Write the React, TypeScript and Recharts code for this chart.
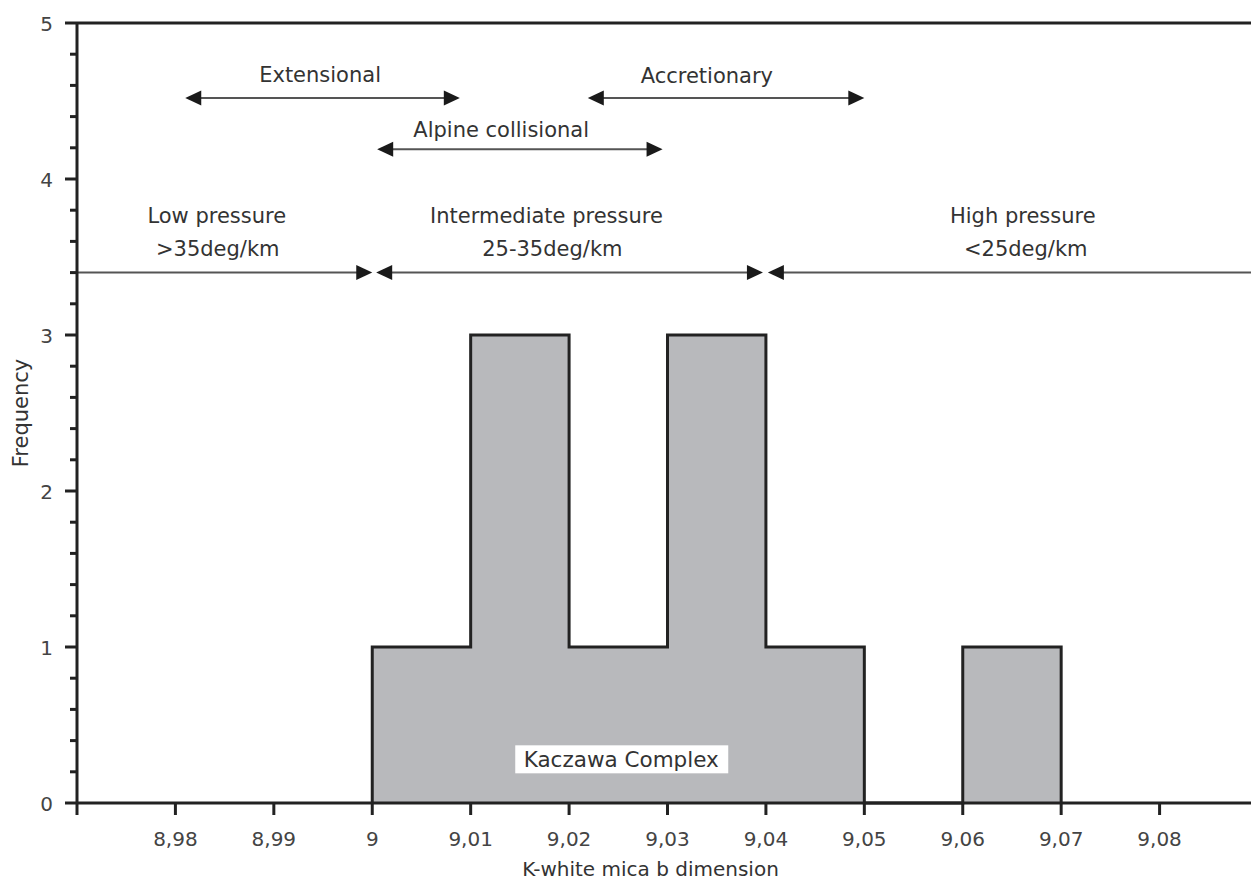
import { ComposedChart, Area, XAxis, YAxis, ReferenceLine, ReferenceDot, Label } from "recharts"

// histogram bins (lower edge) and counts
const binStarts = [9.0, 9.01, 9.02, 9.03, 9.04, 9.05, 9.06]
const binCounts = [1, 3, 1, 3, 1, 0, 1]
const binWidth = 0.01

const xTicks = [8.97, 8.98, 8.99, 9.0, 9.01, 9.02, 9.03, 9.04, 9.05, 9.06, 9.07, 9.08]
const yTicks = [
  0, 0.2, 0.4, 0.6, 0.8, 1, 1.2, 1.4, 1.6, 1.8, 2, 2.2, 2.4, 2.6, 2.8,
  3, 3.2, 3.4, 3.6, 3.8, 4, 4.2, 4.4, 4.6, 4.8, 5
]

// tectonic setting ranges: from, to, level
const settingArrows = [
  { from: 8.981, to: 9.0089, y: 4.52, start: true, end: true },
  { from: 9.0005, to: 9.0295, y: 4.19, start: true, end: true },
  { from: 9.0219, to: 9.05, y: 4.52, start: true, end: true }
]
const settingLabels = [
  { text: "Extensional", x: 8.9947, y: 4.62 },
  { text: "Alpine collisional", x: 9.0131, y: 4.27 },
  { text: "Accretionary", x: 9.034, y: 4.615 }
]

// pressure divisions line
const pressureArrows = [
  { from: 8.97, to: 9.0, y: 3.4, start: false, end: true },
  { from: 9.0004, to: 9.0397, y: 3.4, start: true, end: true },
  { from: 9.0402, to: 9.09, y: 3.4, start: true, end: false }
]
const pressureLabels = [
  { text: "Low pressure", x: 8.9842, y: 3.718 },
  { text: ">35deg/km", x: 8.9843, y: 3.506 },
  { text: "Intermediate pressure", x: 9.0177, y: 3.718 },
  { text: "25-35deg/km", x: 9.0183, y: 3.506 },
  { text: "High pressure", x: 9.0661, y: 3.718 },
  { text: "<25deg/km", x: 9.0664, y: 3.506 }
]

const complexName = { text: "Kaczawa Complex", x: 9.0253, y: 0.28 }

const histData = [
  { x: binStarts[0], count: 0 },
  ...binStarts.map((x, i) => ({ x, count: binCounts[i] })),
  { x: binStarts[binStarts.length - 1] + binWidth, count: 0 }
]

const FONT = "'DejaVu Sans', sans-serif"

const formatX = (v: number) => String(Number(v.toFixed(2))).replace(".", ",")

const YTick = (props: any) => {
  const { x, y, payload } = props
  const major = Number.isInteger(payload.value)
  return (
    <g>
      <line x1={x - (major ? 12 : 7)} y1={y} x2={x} y2={y} stroke="#222" strokeWidth={3} />
      {major && (
        <text x={x - 24} y={y + 1} dy="0.36em" textAnchor="end" fontSize={20} fontFamily={FONT} fill="#444">
          {payload.value}
        </text>
      )}
    </g>
  )
}

const XTick = (props: any) => {
  const { x, y, payload } = props
  return (
    <g>
      <line x1={x} y1={y} x2={x} y2={y + 12} stroke="#222" strokeWidth={3} />
      {payload.value > 8.975 && (
        <text x={x} y={y + 43} textAnchor="middle" fontSize={20} fontFamily={FONT} fill="#444">
          {formatX(payload.value)}
        </text>
      )}
    </g>
  )
}

// double/single headed arrow drawn on a reference segment
const arrowShape = (startHead: boolean, endHead: boolean) => (props: any) => {
  const { x1, y1, x2, y2 } = props
  const L = 16
  const W = 7.5
  return (
    <g>
      <line
        x1={startHead ? x1 + L - 2 : x1}
        y1={y1}
        x2={endHead ? x2 - L + 2 : x2}
        y2={y2}
        stroke="#555"
        strokeWidth={2}
      />
      {startHead && <polygon points={`${x1},${y1} ${x1 + L},${y1 - W} ${x1 + L},${y1 + W}`} fill="#1a1a1a" />}
      {endHead && <polygon points={`${x2},${y2} ${x2 - L},${y2 - W} ${x2 - L},${y2 + W}`} fill="#1a1a1a" />}
    </g>
  )
}

const textShape = (text: string) => (props: any) => (
  <text x={props.cx} y={props.cy} textAnchor="middle" fontSize={21} fontFamily={FONT} fill="#333">
    {text}
  </text>
)

const boxedText = (text: string) => (props: any) => (
  <g>
    <rect x={props.cx - 106} y={props.cy - 14} width={213} height={28} fill="#fff" />
    <text x={props.cx} y={props.cy} dy="0.36em" textAnchor="middle" fontSize={21.5} fontFamily={FONT} fill="#333">
      {text}
    </text>
  </g>
)

export default function App() {
  return (
    <div style={{ position: "absolute", left: 0, top: 0, width: 1251, height: 882, overflow: "hidden", background: "#fff" }}>
      <ComposedChart width={1263} height={882} data={histData} margin={{ top: 23, right: 5, bottom: 0, left: 0 }}>
        <XAxis
          dataKey="x"
          type="number"
          domain={[8.97, 9.09]}
          ticks={xTicks}
          interval={0}
          height={79}
          tickSize={0}
          tickMargin={0}
          tickLine={false}
          tick={<XTick />}
          axisLine={{ stroke: "#222", strokeWidth: 3 }}
        >
          <Label
            content={(p: any) => (
              <text
                x={p.viewBox.x + p.viewBox.width / 2 - 17}
                y={p.viewBox.y + 73}
                textAnchor="middle"
                fontSize={20}
                fontFamily={FONT}
                fill="#333"
              >
                K-white mica b dimension
              </text>
            )}
          />
        </XAxis>
        <YAxis
          type="number"
          domain={[0, 5]}
          ticks={yTicks}
          interval={0}
          width={77}
          tickSize={0}
          tickMargin={0}
          tickLine={false}
          tick={<YTick />}
          axisLine={{ stroke: "#222", strokeWidth: 3 }}
        >
          <Label
            content={(p: any) => {
              const cx = p.viewBox.x + 20
              const cy = p.viewBox.y + p.viewBox.height / 2
              return (
                <text
                  x={cx}
                  y={cy}
                  dy="0.36em"
                  textAnchor="middle"
                  fontSize={21}
                  fontFamily={FONT}
                  fill="#333"
                  transform={`rotate(-90 ${cx} ${cy})`}
                >
                  Frequency
                </text>
              )
            }}
          />
        </YAxis>
        <Area
          dataKey="count"
          type="stepAfter"
          stroke="#222"
          strokeWidth={3}
          fill="#b8b9bc"
          fillOpacity={1}
          dot={false}
          activeDot={false}
          isAnimationActive={false}
        />
        <ReferenceLine y={5} stroke="#222" strokeWidth={3} />
        {[...settingArrows, ...pressureArrows].map((a, i) => (
          <ReferenceLine
            key={`arrow-${i}`}
            segment={[{ x: a.from, y: a.y }, { x: a.to, y: a.y }]}
            shape={arrowShape(a.start, a.end)}
          />
        ))}
        {[...settingLabels, ...pressureLabels].map((l, i) => (
          <ReferenceDot key={`lbl-${i}`} x={l.x} y={l.y} r={0} shape={textShape(l.text)} />
        ))}
        <ReferenceDot x={complexName.x} y={complexName.y} r={0} shape={boxedText(complexName.text)} />
      </ComposedChart>
    </div>
  )
}
